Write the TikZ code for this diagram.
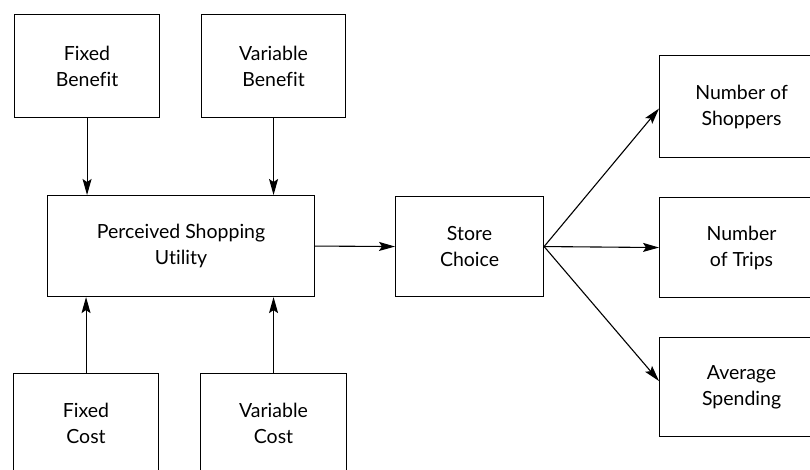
\documentclass[tikz,border=0pt]{standalone}
\usepackage{fontspec}
\setmainfont{Lato}[Ligatures=NoCommon]
\usetikzlibrary{arrows.meta}
\begin{document}
\begin{tikzpicture}[x=1pt,y=-1pt,
  box/.style={draw, line width=1.1pt, inner sep=0pt, align=center,
    font=\fontsize{19.5}{26}\selectfont, anchor=north west},
  arr/.style={-{Stealth[length=16pt,width=9pt,inset=3pt]}, line width=1.1pt}]
\clip (0,0) rectangle (810,470);
\fill[white] (0,0) rectangle (810,470);
\node[box, minimum width=145pt, minimum height=103pt] (fb) at (14,14) {Fixed\\Benefit};
\node[box, minimum width=144pt, minimum height=103pt] (vb) at (201,14) {Variable\\Benefit};
\node[box, minimum width=267pt, minimum height=101pt] (pu) at (47,195) {Perceived Shopping\\Utility};
\node[box, minimum width=145pt, minimum height=100pt] (fc) at (13,373) {Fixed\\Cost};
\node[box, minimum width=146pt, minimum height=100pt] (vc) at (200,373) {Variable\\Cost};
\node[box, minimum width=148pt, minimum height=100pt] (sc) at (395,196) {Store\\Choice};
\node[box, minimum width=164pt, minimum height=102pt] (ns) at (659,55) {Number of\\Shoppers};
\node[box, minimum width=164pt, minimum height=100pt] (nt) at (659,197) {Number\\of Trips};
\node[box, minimum width=164pt, minimum height=99pt] (as) at (659,337) {Average\\Spending};
\draw[arr] (fb.south) -- (fb.south |- pu.north);
\draw[arr] (vb.south) -- (vb.south |- pu.north);
\draw[arr] (fc.north) -- (fc.north |- pu.south);
\draw[arr] (vc.north) -- (vc.north |- pu.south);
\draw[arr] (pu.east) -- (sc.west);
\draw[arr] (sc.east) -- ([yshift=-2pt]ns.west);
\draw[arr] (sc.east) -- (nt.west);
\draw[arr] (sc.east) -- ([yshift=6pt]as.west);
\end{tikzpicture}
\end{document}
